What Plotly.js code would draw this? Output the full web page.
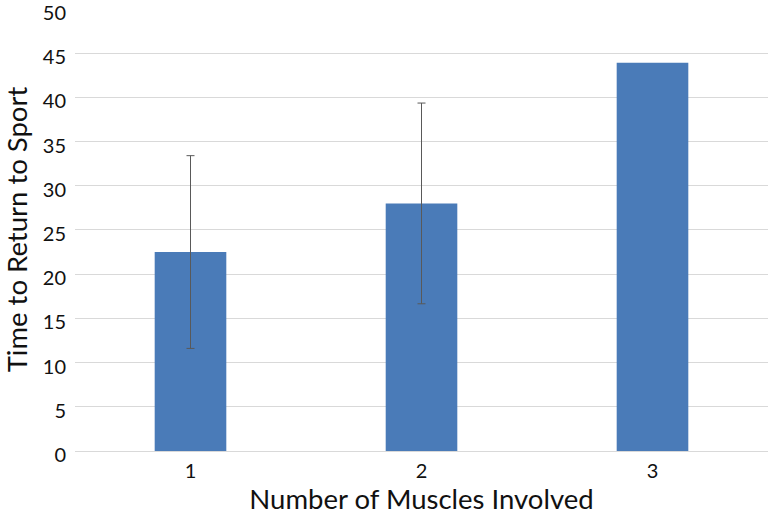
<!DOCTYPE html>
<html>
<head>
<meta charset="utf-8">
<script src="https://cdn.plot.ly/plotly-3.0.1.min.js"></script>
<style>html,body{margin:0;padding:0;background:#fff;}#chart{width:774px;height:516px;}</style>
</head>
<body>
<div id="chart"></div>
<script>
const categories = ["1", "2", "3"];
const meanTime = [22.5, 28.0, 43.9];
const errorPlusMinus = [10.9, 11.35, 0];
const yTickValues = [0, 5, 10, 15, 20, 25, 30, 35, 40, 45, 50];

// bars with an error bar and bars without one are drawn as two overlaid traces
const withErr = categories.map((c, i) => errorPlusMinus[i] > 0);
const pick = (arr, keep) => arr.filter((v, i) => withErr[i] === keep);

const common = {type: "bar", marker: {color: "#4a7bb8"}, hoverinfo: "none"};
const traceErr = Object.assign({}, common, {
  x: pick(categories, true), y: pick(meanTime, true),
  error_y: {type: "data", array: pick(errorPlusMinus, true), visible: true, color: "#595959", thickness: 1, width: 4}
});
const traceNoErr = Object.assign({}, common, {
  x: pick(categories, false), y: pick(meanTime, false)
});

const layout = {
  width: 774, height: 516,
  margin: {l: 75, r: 6, t: 8, b: 65},
  paper_bgcolor: "#fff", plot_bgcolor: "#fff",
  font: {family: "Lato, 'Open Sans', sans-serif", color: "#111"},
  barmode: "overlay",
  bargap: 0.69,
  showlegend: false,
  xaxis: {
    type: "category", categoryorder: "array", categoryarray: categories,
    showgrid: false, showline: false, zeroline: false,
    ticks: "", tickfont: {size: 20}, ticklabelstandoff: 6,
    title: {text: "Number of Muscles Involved", font: {size: 27.5}, standoff: 6}
  },
  yaxis: {
    range: [0, 50.1], tickvals: yTickValues,
    showgrid: true, gridcolor: "#d9d9d9", gridwidth: 1,
    zeroline: true, zerolinecolor: "#d9d9d9", zerolinewidth: 1,
    showline: false, ticks: "", tickfont: {size: 20}, ticklabelstandoff: 8,
    ticklabelshift: 4, ticklabeloverflow: "allow",
    title: {text: "Time to Return to Sport", font: {size: 27.5}, standoff: 8}
  }
};

Plotly.newPlot("chart", [traceErr, traceNoErr], layout, {displayModeBar: false, staticPlot: true});
</script>
</body>
</html>
